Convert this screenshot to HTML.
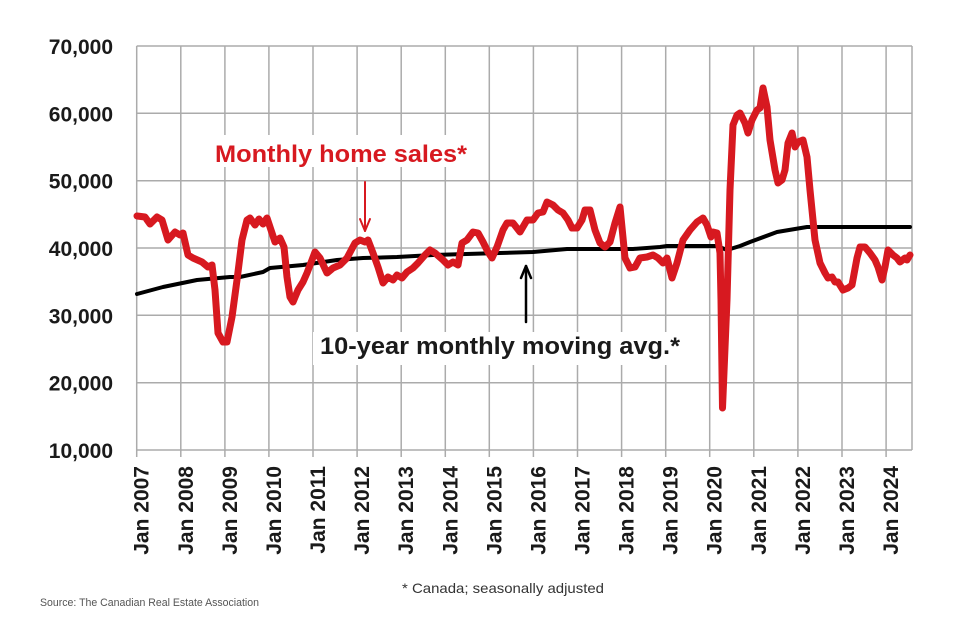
<!DOCTYPE html>
<html>
<head>
<meta charset="utf-8">
<style>
  html, body { margin: 0; padding: 0; background: #ffffff; }
  body { width: 980px; height: 634px; overflow: hidden; }
  svg { display: block; }
</style>
</head>
<body>
<svg width="980" height="634" viewBox="0 0 980 634" xmlns="http://www.w3.org/2000/svg">
  <rect x="0" y="0" width="980" height="634" fill="#ffffff"/>

  <!-- horizontal gridlines -->
  <g stroke="#ababab" stroke-width="1.5">
    <line x1="136.7" y1="46" x2="912" y2="46"/>
    <line x1="136.7" y1="113.3" x2="912" y2="113.3"/>
    <line x1="136.7" y1="180.7" x2="912" y2="180.7"/>
    <line x1="136.7" y1="248" x2="912" y2="248"/>
    <line x1="136.7" y1="315.3" x2="912" y2="315.3"/>
    <line x1="136.7" y1="382.7" x2="912" y2="382.7"/>
    <line x1="136.7" y1="450" x2="912" y2="450"/>
  </g>
  <!-- vertical gridlines + ticks -->
  <g stroke="#ababab" stroke-width="1.5">
    <line x1="136.7" y1="46" x2="136.7" y2="457"/>
    <line x1="180.8" y1="46" x2="180.8" y2="457"/>
    <line x1="224.9" y1="46" x2="224.9" y2="457"/>
    <line x1="268.9" y1="46" x2="268.9" y2="457"/>
    <line x1="313.0" y1="46" x2="313.0" y2="457"/>
    <line x1="357.1" y1="46" x2="357.1" y2="457"/>
    <line x1="401.2" y1="46" x2="401.2" y2="457"/>
    <line x1="445.3" y1="46" x2="445.3" y2="457"/>
    <line x1="489.3" y1="46" x2="489.3" y2="457"/>
    <line x1="533.4" y1="46" x2="533.4" y2="457"/>
    <line x1="577.5" y1="46" x2="577.5" y2="457"/>
    <line x1="621.6" y1="46" x2="621.6" y2="457"/>
    <line x1="665.7" y1="46" x2="665.7" y2="457"/>
    <line x1="709.7" y1="46" x2="709.7" y2="457"/>
    <line x1="753.8" y1="46" x2="753.8" y2="457"/>
    <line x1="797.9" y1="46" x2="797.9" y2="457"/>
    <line x1="842.0" y1="46" x2="842.0" y2="457"/>
    <line x1="886.1" y1="46" x2="886.1" y2="457"/>
    <line x1="912" y1="46" x2="912" y2="450"/>
  </g>

  <!-- Y axis labels -->
  <g font-family="Liberation Sans, sans-serif" font-weight="bold" font-size="21" fill="#1a1a1a" text-anchor="end">
    <text x="113" y="54">70,000</text>
    <text x="113" y="121.3">60,000</text>
    <text x="113" y="188.7">50,000</text>
    <text x="113" y="256">40,000</text>
    <text x="113" y="323.3">30,000</text>
    <text x="113" y="390.7">20,000</text>
    <text x="113" y="458">10,000</text>
  </g>

  <!-- X axis labels -->
  <g font-family="Liberation Sans, sans-serif" font-weight="bold" font-size="21" fill="#1a1a1a" text-anchor="end">
    <text transform="translate(148.7,466) rotate(-90)">Jan 2007</text>
    <text transform="translate(192.8,466) rotate(-90)">Jan 2008</text>
    <text transform="translate(236.9,466) rotate(-90)">Jan 2009</text>
    <text transform="translate(280.9,466) rotate(-90)">Jan 2010</text>
    <text transform="translate(325.0,466) rotate(-90)">Jan 2011</text>
    <text transform="translate(369.1,466) rotate(-90)">Jan 2012</text>
    <text transform="translate(413.2,466) rotate(-90)">Jan 2013</text>
    <text transform="translate(457.3,466) rotate(-90)">Jan 2014</text>
    <text transform="translate(501.3,466) rotate(-90)">Jan 2015</text>
    <text transform="translate(545.4,466) rotate(-90)">Jan 2016</text>
    <text transform="translate(589.5,466) rotate(-90)">Jan 2017</text>
    <text transform="translate(633.6,466) rotate(-90)">Jan 2018</text>
    <text transform="translate(677.7,466) rotate(-90)">Jan 2019</text>
    <text transform="translate(721.7,466) rotate(-90)">Jan 2020</text>
    <text transform="translate(765.8,466) rotate(-90)">Jan 2021</text>
    <text transform="translate(809.9,466) rotate(-90)">Jan 2022</text>
    <text transform="translate(854.0,466) rotate(-90)">Jan 2023</text>
    <text transform="translate(898.1,466) rotate(-90)">Jan 2024</text>
  </g>

  <!-- annotation backgrounds -->
  <rect x="208" y="135" width="266" height="32" fill="#ffffff"/>
  <rect x="313" y="332" width="373" height="33" fill="#ffffff"/>

  <!-- 10-year moving average (black) -->
  <polyline fill="none" stroke="#000000" stroke-width="4" stroke-linejoin="round" stroke-linecap="round"
    points="137,294 163,287 197,280 230,277 240,277 263,272 270,268 303,265 337,260 363,258 397,257 433,255 500,253 533,252 567,249 633,249 660,247 667,246 717,246 727,250 740,246 750,242 777,232 807,227 850,227 880,227 910,227"/>

  <!-- Monthly home sales (red) -->
  <polyline fill="none" stroke="#d71920" stroke-width="7" stroke-linejoin="round" stroke-linecap="round"
    points="137,216 145,217 150,224 157,217 162,220 168,240 175,232 180,235 183,233 188,255 193,258 202,262 208,267 212,265 215,290 218,333 223,342 227,342 232,317 237,280 242,240 247,220 250,218 255,225 259,219 263,224 267,218 272,233 275,242 280,238 284,247 287,277 290,297 293,302 298,290 303,282 307,273 312,260 315,252 320,258 327,273 333,268 340,265 347,258 355,243 360,240 365,242 368,240 373,253 378,267 383,283 388,277 393,280 397,275 402,278 407,272 413,268 418,263 425,255 430,250 435,253 443,260 448,265 453,262 458,265 462,243 467,240 473,232 478,233 483,242 488,252 492,258 497,247 503,230 507,223 513,223 520,232 527,220 533,220 538,213 543,212 547,202 553,205 558,210 563,213 568,220 572,228 577,228 582,220 585,210 590,210 595,230 600,243 605,247 610,242 615,223 620,207 625,258 630,268 635,267 640,258 647,257 653,255 658,258 663,263 667,258 672,278 677,263 683,240 690,230 697,222 703,218 707,225 711,237 713,232 717,233 720,253 721,300 722.5,408 727,300 730,190 733,125 737,115 740,113 745,123 748,133 752,120 757,110 760,108 763,88 767,107 770,140 775,170 778,183 782,180 785,170 788,143 792,133 795,147 798,142 803,140 807,157 810,190 815,240 820,263 825,273 828,278 832,277 835,282 838,282 843,290 848,288 852,285 857,258 860,247 865,247 870,253 875,260 878,267 882,280 885,267 888,250 893,255 897,258 900,262 905,258 907,260 910,255"/>

  <!-- annotation text -->
  <text x="215" y="162" font-family="Liberation Sans, sans-serif" font-weight="bold" font-size="24" fill="#d71920" textLength="252" lengthAdjust="spacingAndGlyphs">Monthly home sales*</text>
  <text x="320" y="354" font-family="Liberation Sans, sans-serif" font-weight="bold" font-size="24" fill="#1a1a1a" textLength="360" lengthAdjust="spacingAndGlyphs">10-year monthly moving avg.*</text>

  <!-- red arrow down -->
  <g stroke="#d71920" stroke-width="2" fill="none" stroke-linecap="round" stroke-linejoin="round">
    <line x1="365" y1="182" x2="365" y2="231"/>
    <polyline points="360,219 365,231 370,219"/>
  </g>
  <!-- black arrow up -->
  <g stroke="#000000" stroke-width="2.5" fill="none" stroke-linecap="round" stroke-linejoin="round">
    <line x1="526" y1="322" x2="526" y2="266"/>
    <polyline points="521,278 526,266 531,278"/>
  </g>

  <!-- footnotes -->
  <text x="402" y="593" font-family="Liberation Sans, sans-serif" font-size="14" fill="#333333" textLength="202" lengthAdjust="spacingAndGlyphs">* Canada; seasonally adjusted</text>
  <text x="40" y="606" font-family="Liberation Sans, sans-serif" font-size="11" fill="#555555" textLength="219" lengthAdjust="spacingAndGlyphs">Source: The Canadian Real Estate Association</text>
</svg>
</body>
</html>
